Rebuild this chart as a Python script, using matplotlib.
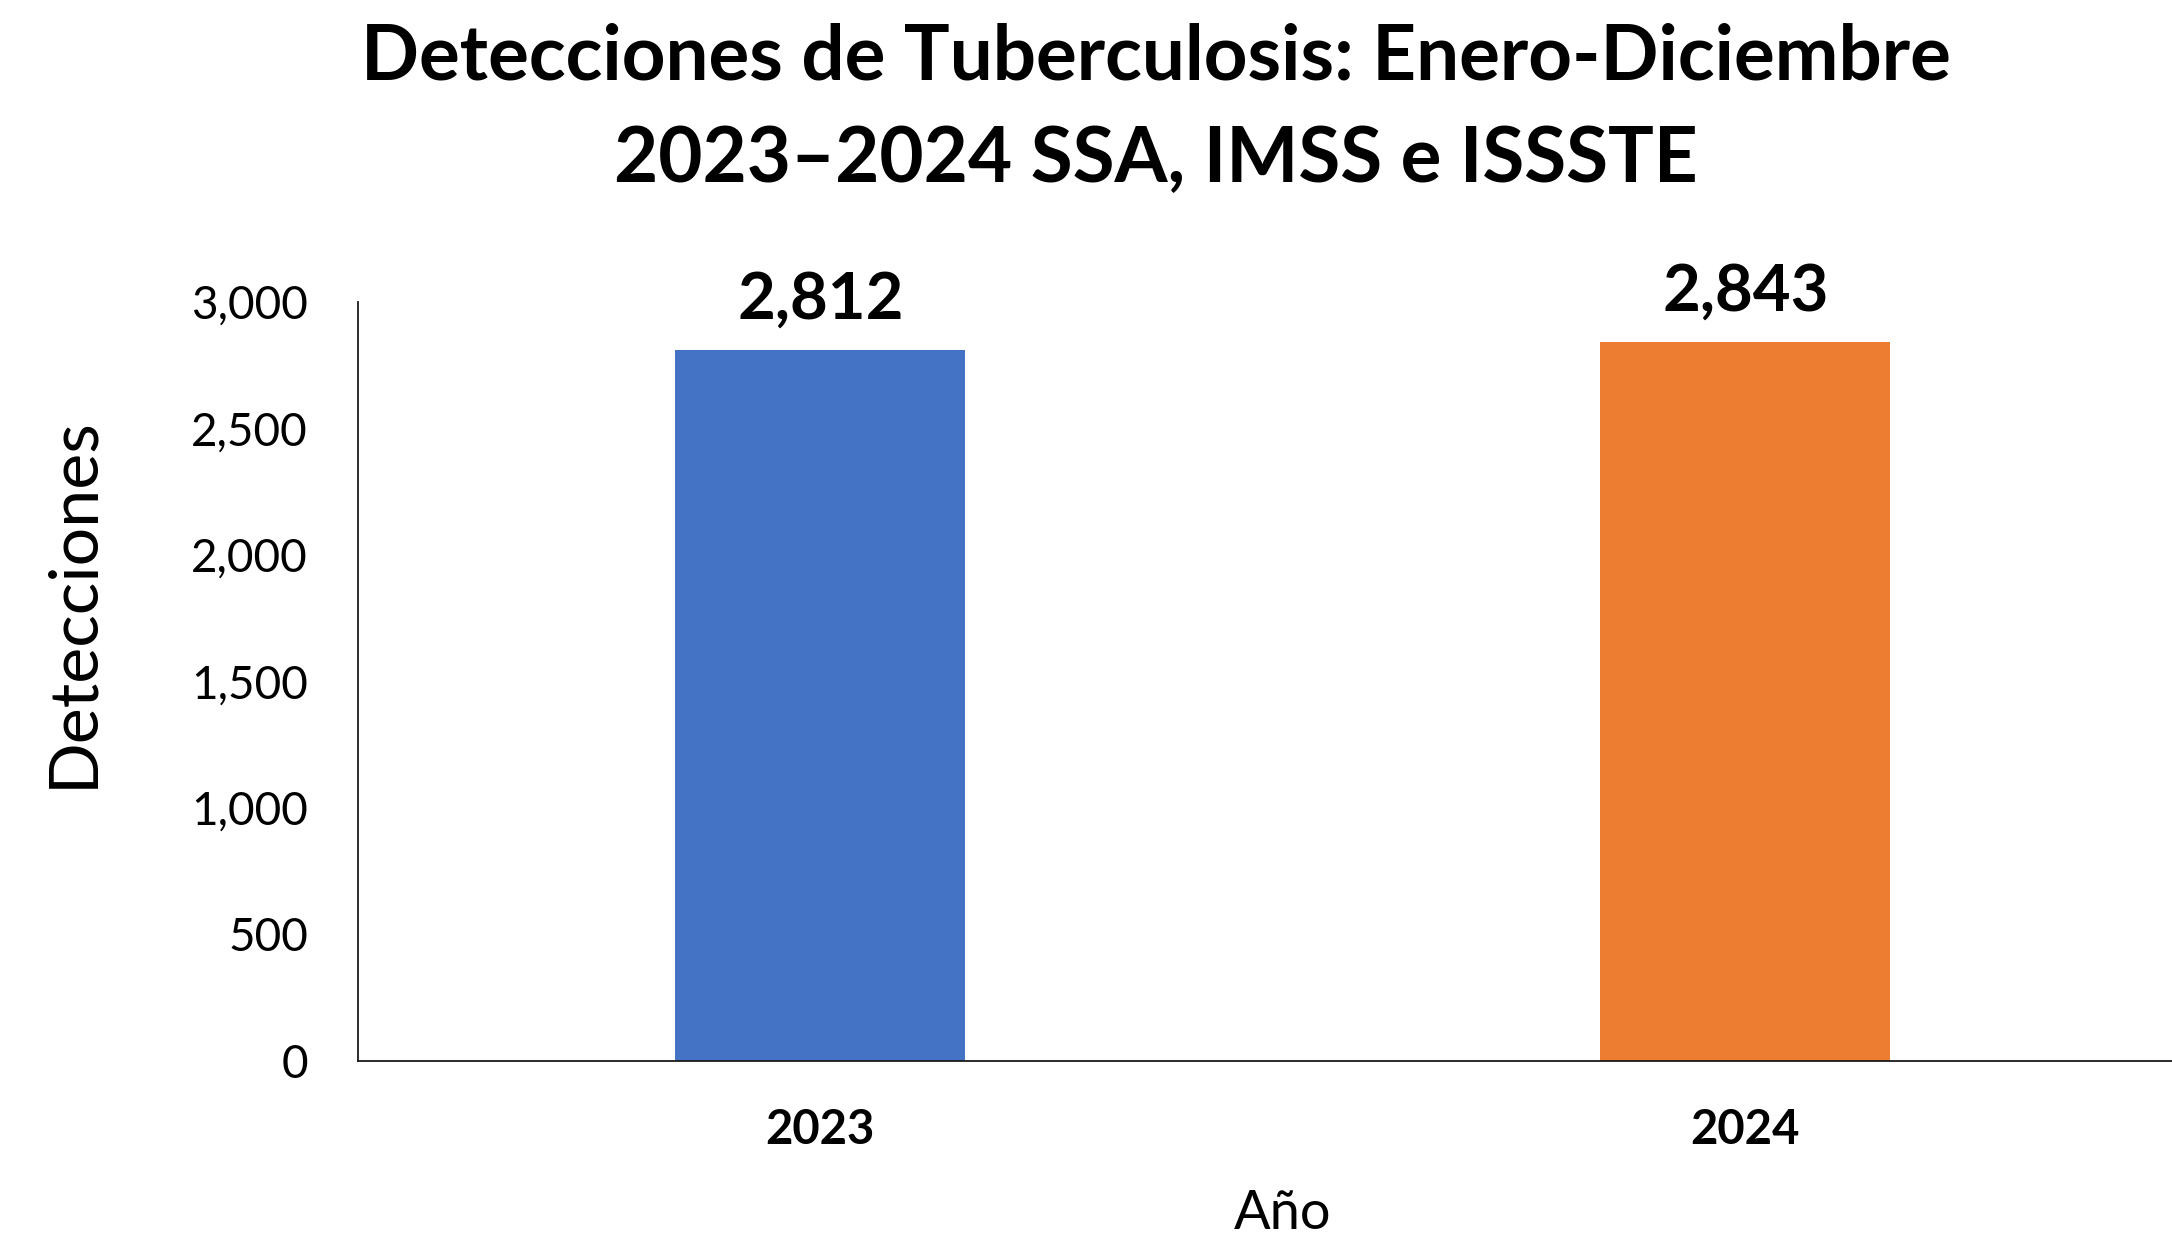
import matplotlib
matplotlib.use('Agg')
from matplotlib import pyplot as plt
from matplotlib.ticker import FuncFormatter, MultipleLocator

# Datos
anios = ['2023', '2024']
detecciones = [2812, 2843]
colores = ['#4472C4', '#ED7D31']

plt.rcParams['font.family'] = ['Lato', 'DejaVu Sans']

fig = plt.figure(figsize=(21.72, 12.37), dpi=100)
ax = fig.add_axes([0.1648, 0.1423, 0.8517, 0.6136])

# Barras
posiciones = range(len(anios))
barras = ax.bar(posiciones, detecciones, width=0.3135, color=colores)

# Etiquetas de valor encima de cada barra
for x, valor in zip(posiciones, detecciones):
    ax.annotate(f"{valor:,}", xy=(x, valor), xytext=(0, 22),
                textcoords='offset points', ha='center', va='baseline',
                fontsize=47, fontweight='bold')

# Ejes
ax.set_xlim(-0.5, 1.5)
ax.set_ylim(0, 3000)
ax.yaxis.set_major_locator(MultipleLocator(500))
ax.yaxis.set_major_formatter(FuncFormatter(lambda v, p: f"{v:,.0f}"))
ax.set_xticks(list(posiciones))
ax.set_xticklabels(anios, fontsize=34, fontweight='bold')
ax.tick_params(axis='y', length=0, pad=36, labelsize=33)
ax.tick_params(axis='x', length=0, pad=34)

for lado in ['top', 'right']:
    ax.spines[lado].set_visible(False)
for lado in ['left', 'bottom']:
    ax.spines[lado].set_color('#1a1a1a')
    ax.spines[lado].set_linewidth(1.3)

ax.set_ylabel("Detecciones", fontsize=49, va='center')
ax.yaxis.set_label_coords(-0.154, 0.604)
ax.set_xlabel("Año", fontsize=39, va='baseline')
ax.xaxis.set_label_coords(0.5, -0.2213)

# Título en dos líneas
fig.text(0.532, 1 - 79 / 1237, "Detecciones de Tuberculosis: Enero-Diciembre",
         ha='center', va='baseline', fontsize=55, fontweight='bold')
fig.text(0.532, 1 - 182 / 1237, "2023\u20132024 SSA, IMSS e ISSSTE",
         ha='center', va='baseline', fontsize=55, fontweight='bold')

fig.savefig('out.png', dpi=100)
